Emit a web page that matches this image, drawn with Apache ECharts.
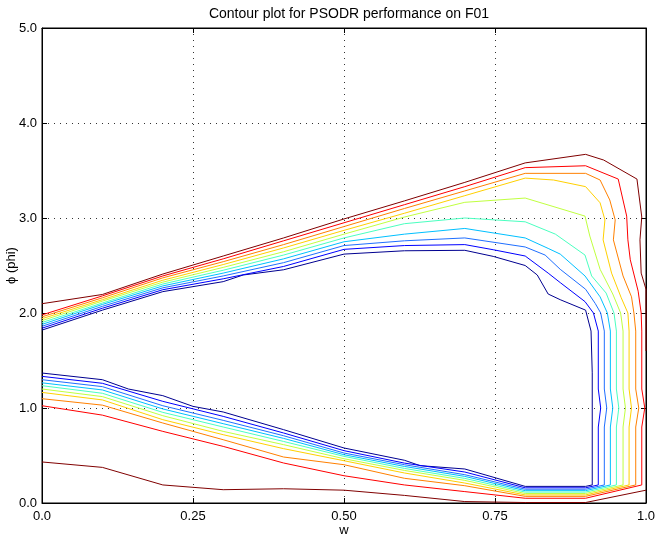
<!DOCTYPE html>
<html>
<head>
<meta charset="utf-8">
<script src="https://cdn.jsdelivr.net/npm/echarts@6/dist/echarts.min.js"></script>
<style>html,body{margin:0;padding:0;background:#fff}#c{width:657px;height:539px}</style>
</head>
<body>
<div id="c"></div>
<script>
// ---- data ----
const xTickLabels = ['0.0', '0.25', '0.50', '0.75', '1.0'];
const yTickLabels = ['0.0', '1.0', '2.0', '3.0', '4.0', '5.0'];
const levelNames = ['L1', 'L2', 'L3', 'L4', 'L5', 'L6', 'L7', 'L8', 'L9', 'L10'];
const levelColors = ['#000090', '#0000ff', '#1f6fff', '#00c0ff', '#4affc0', '#c0ff40', '#ffd000', '#ff8000', '#ff0000', '#800000'];

const contourL1 = [[0,1.82],[0.1,2.03],[0.2,2.225],[0.3,2.33],[0.333,2.40],[0.4,2.455],[0.5,2.62],[0.6,2.655],[0.7,2.66],[0.747,2.596],[0.8,2.50],[0.82,2.40],[0.838,2.20],[0.858,2.14],[0.9,2.03],[0.909,1.81],[0.911,1.37],[0.911,0.19],[0.9,0.175],[0.8,0.175],[0.7,0.358],[0.626,0.393],[0.6,0.45],[0.5,0.579],[0.4,0.772],[0.3,0.958],[0.25,1.017],[0.2,1.13],[0.143,1.2],[0.1,1.298],[0,1.368]];
const contourL2 = [[0,1.84],[0.1,2.05],[0.2,2.245],[0.3,2.36],[0.4,2.49],[0.5,2.67],[0.6,2.71],[0.7,2.72],[0.747,2.666],[0.8,2.60],[0.838,2.42],[0.858,2.32],[0.899,2.12],[0.913,2.0],[0.921,1.81],[0.921,1.2],[0.925,1.0],[0.921,0.8],[0.921,0.19],[0.9,0.16],[0.8,0.16],[0.7,0.326],[0.6,0.42],[0.5,0.551],[0.4,0.737],[0.3,0.912],[0.2,1.07],[0.1,1.26],[0,1.333]];
const contourL3 = [[0,1.86],[0.1,2.07],[0.2,2.265],[0.3,2.39],[0.4,2.53],[0.5,2.71],[0.6,2.76],[0.7,2.79],[0.8,2.695],[0.833,2.61],[0.858,2.46],[0.9,2.25],[0.916,2.1],[0.925,2.0],[0.931,1.81],[0.931,1.2],[0.935,1.0],[0.931,0.8],[0.931,0.19],[0.9,0.145],[0.8,0.145],[0.7,0.298],[0.6,0.403],[0.5,0.526],[0.4,0.708],[0.3,0.87],[0.2,1.024],[0.1,1.225],[0,1.298]];
const contourL4 = [[0,1.88],[0.1,2.09],[0.2,2.285],[0.3,2.42],[0.4,2.57],[0.5,2.75],[0.6,2.83],[0.7,2.89],[0.8,2.79],[0.838,2.68],[0.858,2.62],[0.899,2.39],[0.924,2.17],[0.936,2.0],[0.941,1.81],[0.941,1.2],[0.945,1.0],[0.941,0.8],[0.941,0.19],[0.9,0.13],[0.8,0.13],[0.7,0.28],[0.6,0.385],[0.5,0.508],[0.4,0.68],[0.3,0.835],[0.2,0.99],[0.1,1.19],[0,1.265]];
const contourL5 = [[0,1.90],[0.1,2.105],[0.2,2.305],[0.3,2.45],[0.4,2.61],[0.5,2.79],[0.6,2.94],[0.7,3.00],[0.8,2.96],[0.85,2.83],[0.899,2.61],[0.91,2.39],[0.934,2.21],[0.947,2.0],[0.951,1.81],[0.951,1.2],[0.955,1.0],[0.951,0.8],[0.951,0.19],[0.9,0.115],[0.8,0.115],[0.7,0.259],[0.6,0.364],[0.5,0.491],[0.4,0.648],[0.3,0.8],[0.2,0.954],[0.1,1.155],[0,1.235]];
const contourL6 = [[0,1.92],[0.1,2.125],[0.2,2.325],[0.3,2.48],[0.4,2.645],[0.5,2.83],[0.6,3.01],[0.7,3.165],[0.8,3.21],[0.899,3.02],[0.907,2.81],[0.924,2.46],[0.945,2.2],[0.958,2.0],[0.962,1.81],[0.962,1.2],[0.966,1.0],[0.962,0.8],[0.962,0.19],[0.9,0.10],[0.8,0.10],[0.7,0.238],[0.6,0.343],[0.5,0.466],[0.4,0.614],[0.3,0.754],[0.2,0.919],[0.1,1.12],[0,1.2]];
const contourL7 = [[0,1.94],[0.1,2.14],[0.2,2.345],[0.3,2.51],[0.4,2.685],[0.5,2.87],[0.6,3.05],[0.7,3.235],[0.8,3.42],[0.847,3.40],[0.9,3.33],[0.924,3.16],[0.932,2.98],[0.929,2.77],[0.943,2.42],[0.959,2.16],[0.97,2.0],[0.972,1.81],[0.972,1.2],[0.976,1.0],[0.972,0.8],[0.972,0.19],[0.9,0.085],[0.8,0.085],[0.7,0.21],[0.6,0.316],[0.5,0.445],[0.4,0.572],[0.3,0.719],[0.2,0.877],[0.1,1.085],[0,1.164]];
const contourL8 = [[0,1.96],[0.1,2.16],[0.2,2.37],[0.3,2.54],[0.4,2.72],[0.5,2.91],[0.6,3.10],[0.7,3.285],[0.8,3.47],[0.9,3.47],[0.924,3.40],[0.94,3.19],[0.949,2.98],[0.946,2.77],[0.962,2.39],[0.976,2.17],[0.98,2.0],[0.983,1.81],[0.983,1.2],[0.988,1.0],[0.983,0.8],[0.983,0.19],[0.9,0.07],[0.8,0.07],[0.7,0.182],[0.6,0.26],[0.5,0.403],[0.4,0.484],[0.3,0.666],[0.2,0.842],[0.1,1.03],[0,1.098]];
const contourL9 = [[0,1.98],[0.1,2.18],[0.2,2.39],[0.3,2.57],[0.4,2.76],[0.5,2.95],[0.6,3.14],[0.7,3.33],[0.8,3.53],[0.9,3.55],[0.954,3.41],[0.968,3.02],[0.97,2.77],[0.974,2.56],[0.987,2.23],[0.992,2.0],[0.993,1.81],[0.993,1.2],[0.998,1.0],[0.993,0.8],[0.993,0.19],[0.9,0.05],[0.8,0.05],[0.7,0.12],[0.6,0.19],[0.5,0.287],[0.4,0.421],[0.3,0.596],[0.2,0.754],[0.1,0.925],[0,1.024]];
const contourL10upper = [[0,2.098],[0.1,2.195],[0.2,2.41],[0.3,2.60],[0.4,2.79],[0.5,2.99],[0.6,3.18],[0.7,3.375],[0.8,3.58],[0.9,3.67],[0.93,3.61],[0.985,3.41],[0.993,3.01],[0.99,2.77],[0.992,2.42],[1.0,2.25],[1.0,1.6]];
const contourL10lower = [[0,0.432],[0.1,0.375],[0.2,0.19],[0.3,0.14],[0.4,0.15],[0.5,0.135],[0.6,0.08],[0.7,0.015],[0.8,0.005],[0.9,0.005],[1.0,0.135]];

const contours = [
  [contourL1], [contourL2], [contourL3], [contourL4], [contourL5],
  [contourL6], [contourL7], [contourL8], [contourL9], [contourL10upper, contourL10lower]
];

// ---- chart ----
const FONT = 'Liberation Sans, Arial, Helvetica, sans-serif';
const chart = echarts.init(document.getElementById('c'), null, {renderer: 'canvas'});
const series = [];
contours.forEach((parts, i) => {
  parts.forEach(p => {
    series.push({
      name: levelNames[i], type: 'line', data: p, xAxisIndex: 0, yAxisIndex: 0,
      showSymbol: false, symbol: 'none', smooth: false,
      lineStyle: {color: levelColors[i], width: 1}, itemStyle: {color: levelColors[i]},
      z: 3
    });
  });
});

const xFmt = v => xTickLabels[Math.round(v / 0.25)] ?? '';
const yFmt = v => yTickLabels[Math.round(v)] ?? '';
const dotted = {color: '#333', width: 1, type: [1, 5]};
const axisTxt = {color: '#000', fontFamily: FONT, fontSize: 13};

chart.setOption({
  animation: false,
  backgroundColor: '#fff',
  title: {
    text: 'Contour plot for PSODR performance on F01',
    left: 344, top: 2, textAlign: 'center',
    textStyle: {color: '#000', fontFamily: FONT, fontSize: 14, fontWeight: 'normal'}
  },
  grid: {left: 42, right: 11, top: 28, bottom: 36, outerBoundsMode: 'none', containLabel: false,
         show: true, borderColor: '#000', borderWidth: 1, backgroundColor: '#fff'},
  xAxis: [
    {type: 'value', min: 0, max: 1, interval: 0.25, position: 'bottom',
     name: 'w', nameLocation: 'middle', nameGap: 21, nameMoveOverlap: false, nameTextStyle: axisTxt,
     axisLine: {show: true, onZero: false, lineStyle: {color: '#000', width: 1}},
     axisTick: {show: true, inside: true, length: 5, lineStyle: {color: '#000'}},
     axisLabel: {...axisTxt, formatter: xFmt, margin: 7},
     splitLine: {show: true, lineStyle: dotted}},
    {type: 'value', min: 0, max: 1, interval: 0.25, position: 'top',
     axisLine: {show: true, onZero: false, lineStyle: {color: '#000', width: 1}},
     axisTick: {show: true, inside: true, length: 5, lineStyle: {color: '#000'}},
     axisLabel: {show: false}, splitLine: {show: false}}
  ],
  yAxis: [
    {type: 'value', min: 0, max: 5, interval: 1, position: 'left',
     name: 'ϕ (phi)', nameLocation: 'middle', nameGap: 24, nameRotate: 90, nameMoveOverlap: false, nameTextStyle: axisTxt,
     axisLine: {show: true, onZero: false, lineStyle: {color: '#000', width: 1}},
     axisTick: {show: true, inside: true, length: 5, lineStyle: {color: '#000'}},
     axisLabel: {...axisTxt, formatter: yFmt, margin: 5},
     splitLine: {show: true, lineStyle: dotted}},
    {type: 'value', min: 0, max: 5, interval: 1, position: 'right',
     axisLine: {show: true, onZero: false, lineStyle: {color: '#000', width: 1}},
     axisTick: {show: true, inside: true, length: 5, lineStyle: {color: '#000'}},
     axisLabel: {show: false}, splitLine: {show: false}}
  ],
  series: series
});
</script>
</body>
</html>
